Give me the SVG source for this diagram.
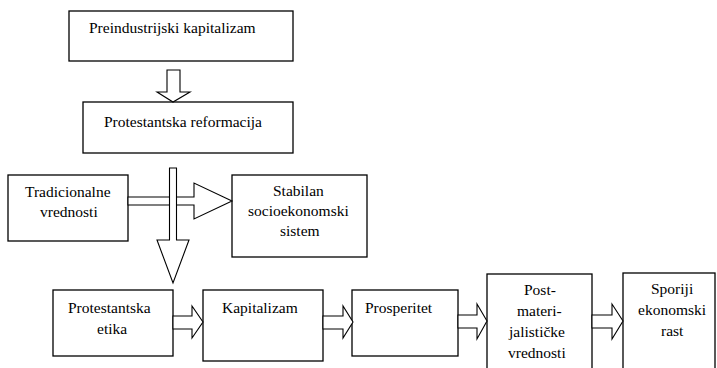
<svg xmlns="http://www.w3.org/2000/svg" width="717" height="368" viewBox="0 0 717 368">
<defs>
<polygon id="harr" points="0,0 19,0 19,-10 30,6 19,22 19,13 0,13" fill="#fff" stroke="#000" stroke-width="1.1"/>
</defs>
<rect width="717" height="368" fill="#fff"/>
<g fill="#fff" stroke="#000" stroke-width="1.3">
<rect id="b1" x="69" y="11" width="224" height="50"/>
<rect id="b2" x="83" y="102" width="210" height="51"/>
<rect id="b3" x="8" y="175" width="120" height="66"/>
<rect id="b4" x="232" y="175" width="135" height="82"/>
<rect id="b5" x="53" y="290" width="120" height="66"/>
<rect id="b6" x="203" y="290" width="120" height="71"/>
<rect id="b7" x="352" y="290" width="106" height="66"/>
<rect id="b8" x="487" y="274" width="105" height="100"/>
<rect id="b9" x="623" y="273" width="92" height="100"/>
</g>
<g id="connectors" fill="#fff" stroke="#000" stroke-width="1.1">
<polygon points="167,70 180,70 180,92 190,92 173,102 157,92 167,92"/>
<polygon points="128,197 194,197 194,183 232,201 194,219 194,205 128,205"/>
<polygon points="169.5,168 176.5,168 176.5,240 189,240 173,283 157,240 169.5,240"/>
<polygon points="173,316 192,316 192,306 203,322 192,338 192,329 173,329"/>
<polygon points="323,316 343,316 343,306 353,322 343,338 343,329 323,329"/>
<polygon points="458,315 477,315 477,304 487,321 477,339 477,328 458,328"/>
<polygon points="592,315 612,315 612,304 623,321 612,339 612,328 592,328"/>
</g>
<g id="n1"><text font-family="Liberation Serif" font-size="15.5" x="89" y="33">Preindustrijski  kapitalizam</text></g>
<g id="n2"><text font-family="Liberation Serif" font-size="15.5" x="104" y="127">Protestantska reformacija</text></g>
<g id="n3"><text font-family="Liberation Serif" font-size="15.5" x="25" y="197">Tradicionalne</text><text font-family="Liberation Serif" font-size="15.5" x="40" y="217">vrednosti</text></g>
<g id="n4"><text font-family="Liberation Serif" font-size="15.5" x="273" y="196">Stabilan</text><text font-family="Liberation Serif" font-size="15.5" x="248" y="216">socioekonomski</text><text font-family="Liberation Serif" font-size="15.5" x="280" y="236">sistem</text></g>
<g id="n5"><text font-family="Liberation Serif" font-size="15.5" x="68" y="313">Protestantska</text><text font-family="Liberation Serif" font-size="15.5" x="97" y="334">etika</text></g>
<g id="n6"><text font-family="Liberation Serif" font-size="15.5" x="222" y="313">Kapitalizam</text></g>
<g id="n7"><text font-family="Liberation Serif" font-size="15.5" x="365" y="313">Prosperitet</text></g>
<g id="n8"><text font-family="Liberation Serif" font-size="15.5" x="524" y="295">Post-</text><text font-family="Liberation Serif" font-size="15.5" x="517" y="316">materi-</text><text font-family="Liberation Serif" font-size="15.5" x="509" y="337">jalističke</text><text font-family="Liberation Serif" font-size="15.5" x="508" y="358">vrednosti</text></g>
<g id="n9"><text font-family="Liberation Serif" font-size="15.5" x="651" y="294">Sporiji</text><text font-family="Liberation Serif" font-size="15.5" x="638" y="315">ekonomski</text><text font-family="Liberation Serif" font-size="15.5" x="661" y="336">rast</text></g>
</svg>
